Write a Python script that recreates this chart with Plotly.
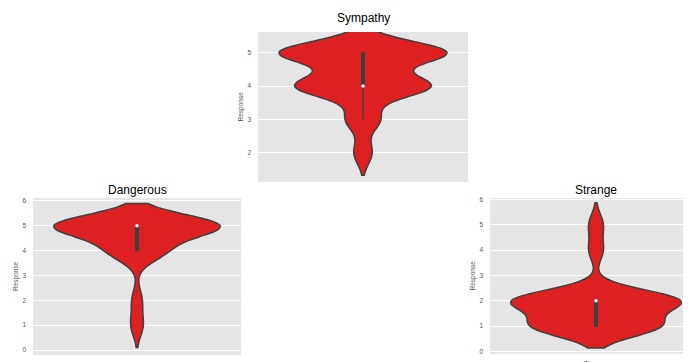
import numpy as np
import plotly.graph_objects as go

# ---- data (counts of each response level) ----
levels = [1, 2, 3, 4, 5]
sympathy_counts = [0, 9, 17, 67, 83]
dangerous_counts = [6, 5, 0, 27, 82]
strange_counts = [61, 81, 0, 7, 7]

titles = ["Sympathy", "Dangerous", "Strange"]
categories = ["Police", "Police", "Stranger"]
bandwidths = [0.34, 0.45, 0.43]

# the page body adds an 8px margin, so the figure is laid out 8px smaller
OFF = 8
W, H = 691 - OFF, 362 - OFF
FILL = "#DF2020"
EDGE = "#3f3f3f"
BG = "#E5E5E5"
TXT = "#555555"
FONT = "Arial, Liberation Sans, sans-serif"

# pixel boxes of each subplot in the window: (left, right, top, bottom)
boxes = [(258, 468, 32, 182), (33, 241, 198, 355), (490, 691, 198, 354)]
yranges = [[1.12, 5.62], [-0.2, 6.12], [-0.1, 6.05]]
xranges = [[-0.5, 0.5], [-0.5, 0.5], [-0.5, 0.448]]
yticks = [[2, 3, 4, 5], [0, 1, 2, 3, 4, 5, 6], [0, 1, 2, 3, 4, 5, 6]]
title_x = [363, 137, 596]
title_y = [17.5, 190, 190]
show_xlabels = [False, True, True]

all_counts = [sympathy_counts, dangerous_counts, strange_counts]


def px(x):
    return (x - OFF) / W


def py(y):
    return 1 - (y - OFF) / H


fig = go.Figure()
layout = dict(
    width=W, height=H, margin=dict(l=0, r=0, t=0, b=0, autoexpand=False),
    paper_bgcolor="white", plot_bgcolor=BG, showlegend=False,
    font=dict(family=FONT, color=TXT),
)
annotations = []

for i, (counts, title, cat, bw) in enumerate(zip(all_counts, titles, categories, bandwidths)):
    samples = np.repeat(levels, counts)
    ax = "" if i == 0 else str(i + 1)
    xref, yref = "x" + ax, "y" + ax
    fig.add_trace(go.Violin(
        x=[cat] * len(samples), y=samples,
        xaxis=xref, yaxis=yref,
        bandwidth=bw, spanmode="soft", scalemode="width", width=0.8,
        fillcolor=FILL, opacity=1, line=dict(color=EDGE, width=1.5),
        points=False,
        box=dict(visible=True, width=0.016, fillcolor=EDGE,
                 line=dict(color=EDGE, width=1.3)),
        meanline=dict(visible=False),
        hoverinfo="skip",
    ))
    fig.add_trace(go.Scatter(
        x=[cat], y=[float(np.median(samples))], mode="markers",
        xaxis=xref, yaxis=yref,
        marker=dict(color="white", size=3.5, line=dict(width=0)),
        hoverinfo="skip",
    ))
    l, r, t, b = boxes[i]
    layout["xaxis" + ax] = dict(
        domain=[px(l), min(px(r), 1.0)], anchor=yref, type="category", range=xranges[i],
        showgrid=False, zeroline=False, showline=False, ticks="",
        showticklabels=show_xlabels[i], automargin=False,
        tickfont=dict(size=6.5, color=TXT), ticklabelstandoff=4, fixedrange=True,
    )
    layout["yaxis" + ax] = dict(
        domain=[max(py(b), 0.0), py(t)], anchor=xref, range=yranges[i],
        tickvals=yticks[i], showgrid=True, gridcolor="white", gridwidth=1,
        zeroline=False, showline=False, ticks="", automargin=False,
        tickfont=dict(size=6.5, color=TXT), ticklabelstandoff=6, fixedrange=True,
    )
    annotations.append(dict(
        text=title, x=px(title_x[i]), y=py(title_y[i]),
        xref="paper", yref="paper", xanchor="center", yanchor="middle",
        showarrow=False, font=dict(size=12, color="black", family=FONT),
    ))
    annotations.append(dict(
        text="Response", x=px(l - 17.5), y=py((t + b) / 2),
        xref="paper", yref="paper", xanchor="center", yanchor="middle",
        textangle=-90, showarrow=False, font=dict(size=6.5, color=TXT, family=FONT),
    ))

layout["annotations"] = annotations
fig.update_layout(**layout)
fig.write_html("out.html")
